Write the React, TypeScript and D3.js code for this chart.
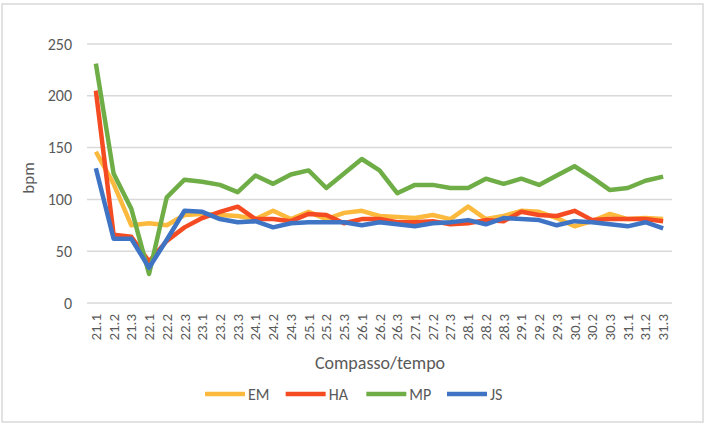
import * as d3 from "d3";

// categories (bar.beat)
const categories = [
  "21.1", "21.2", "21.3", "22.1", "22.2", "22.3", "23.1", "23.2", "23.3",
  "24.1", "24.2", "24.3", "25.1", "25.2", "25.3", "26.1", "26.2", "26.3",
  "27.1", "27.2", "27.3", "28.1", "28.2", "28.3", "29.1", "29.2", "29.3",
  "30.1", "30.2", "30.3", "31.1", "31.2", "31.3",
];

const emValues = [146, 115, 75, 77, 75, 85, 86, 85, 84, 81, 89, 81, 88, 81, 87, 89, 84, 83, 82, 85, 81, 93, 81, 84, 89, 88, 82, 74, 79, 86, 81, 82, 81];
const haValues = [205, 66, 64, 40, 60, 73, 82, 88, 93, 81, 81, 79, 86, 85, 77, 81, 81, 78, 78, 79, 76, 77, 80, 79, 88, 85, 84, 89, 80, 81, 81, 81, 79];
const mpValues = [231, 125, 91, 28, 102, 119, 117, 114, 107, 123, 115, 124, 128, 111, 125, 139, 128, 106, 114, 114, 111, 111, 120, 115, 120, 114, 123, 132, 121, 109, 111, 118, 122];
const jsValues = [130, 62, 62, 34, 61, 89, 88, 81, 78, 79, 73, 77, 78, 78, 78, 75, 78, 76, 74, 77, 78, 80, 76, 82, 81, 80, 75, 79, 78, 76, 74, 78, 72];

const yTicks = [0, 50, 100, 150, 200, 250];

const series = [
  { name: "EM", values: emValues, color: "#FBBA3E" },
  { name: "HA", values: haValues, color: "#F44B22" },
  { name: "MP", values: mpValues, color: "#6FAD47" },
  { name: "JS", values: jsValues, color: "#3F74C4" },
];

const W = 708;
const H = 425;
const font = "Calibri, Carlito, 'Open Sans', sans-serif";
const textColor = "#595959";

export default function App() {
  const x = d3.scaleBand().domain(categories).range([87, 672]).padding(0);
  const y = d3.scaleLinear().domain([0, 250]).range([303, 44]);
  const cx = (c: string) => (x(c) ?? 0) + x.bandwidth() / 2;

  const line = d3
    .line<number>()
    .x((_, i) => cx(categories[i]))
    .y((d) => y(d));

  const legendX = d3.scalePoint().domain(series.map((s) => s.name)).range([205, 447]);

  return (
    <div style={{ position: "absolute", left: 0, top: 0 }}>
      <svg width={W} height={H} style={{ display: "block", background: "#fff" }}>
        <rect x={2} y={4} width={701} height={418} fill="#fff" stroke="#d9d9d9" strokeWidth={1.5} />

        {/* grid */}
        {yTicks.map((t) => (
          <g key={t}>
            <line x1={87} x2={672} y1={y(t)} y2={y(t)} stroke="#d9d9d9" strokeWidth={1.5} />
            <text
              x={72}
              y={y(t)}
              dy="0.35em"
              textAnchor="end"
              fontFamily={font}
              fontSize={16}
              fill={textColor}
            >
              {t}
            </text>
          </g>
        ))}

        {/* x labels */}
        {categories.map((c) => (
          <text
            key={c}
            transform={`translate(${cx(c) + 5},314) rotate(-90)`}
            textAnchor="end"
            fontFamily={font}
            fontSize={15}
            fill={textColor}
          >
            {c}
          </text>
        ))}

        {/* lines */}
        {series.map((s) => (
          <path
            key={s.name}
            d={line(s.values) ?? ""}
            fill="none"
            stroke={s.color}
            strokeWidth={4.5}
            strokeLinejoin="round"
          />
        ))}

        {/* axis titles */}
        <text
          transform="translate(34,178) rotate(-90)"
          textAnchor="middle"
          fontFamily={font}
          fontSize={17}
          fill={textColor}
        >
          bpm
        </text>
        <text x={380} y={369} textAnchor="middle" fontFamily={font} fontSize={18} fill={textColor}>
          Compasso/tempo
        </text>

        {/* legend */}
        {series.map((s) => {
          const lx = legendX(s.name) ?? 0;
          return (
            <g key={s.name}>
              <line x1={lx} x2={lx + 40} y1={394} y2={394} stroke={s.color} strokeWidth={4.5} />
              <text x={lx + 43} y={394} dy="0.35em" fontFamily={font} fontSize={16} fill={textColor}>
                {s.name}
              </text>
            </g>
          );
        })}
      </svg>
    </div>
  );
}
